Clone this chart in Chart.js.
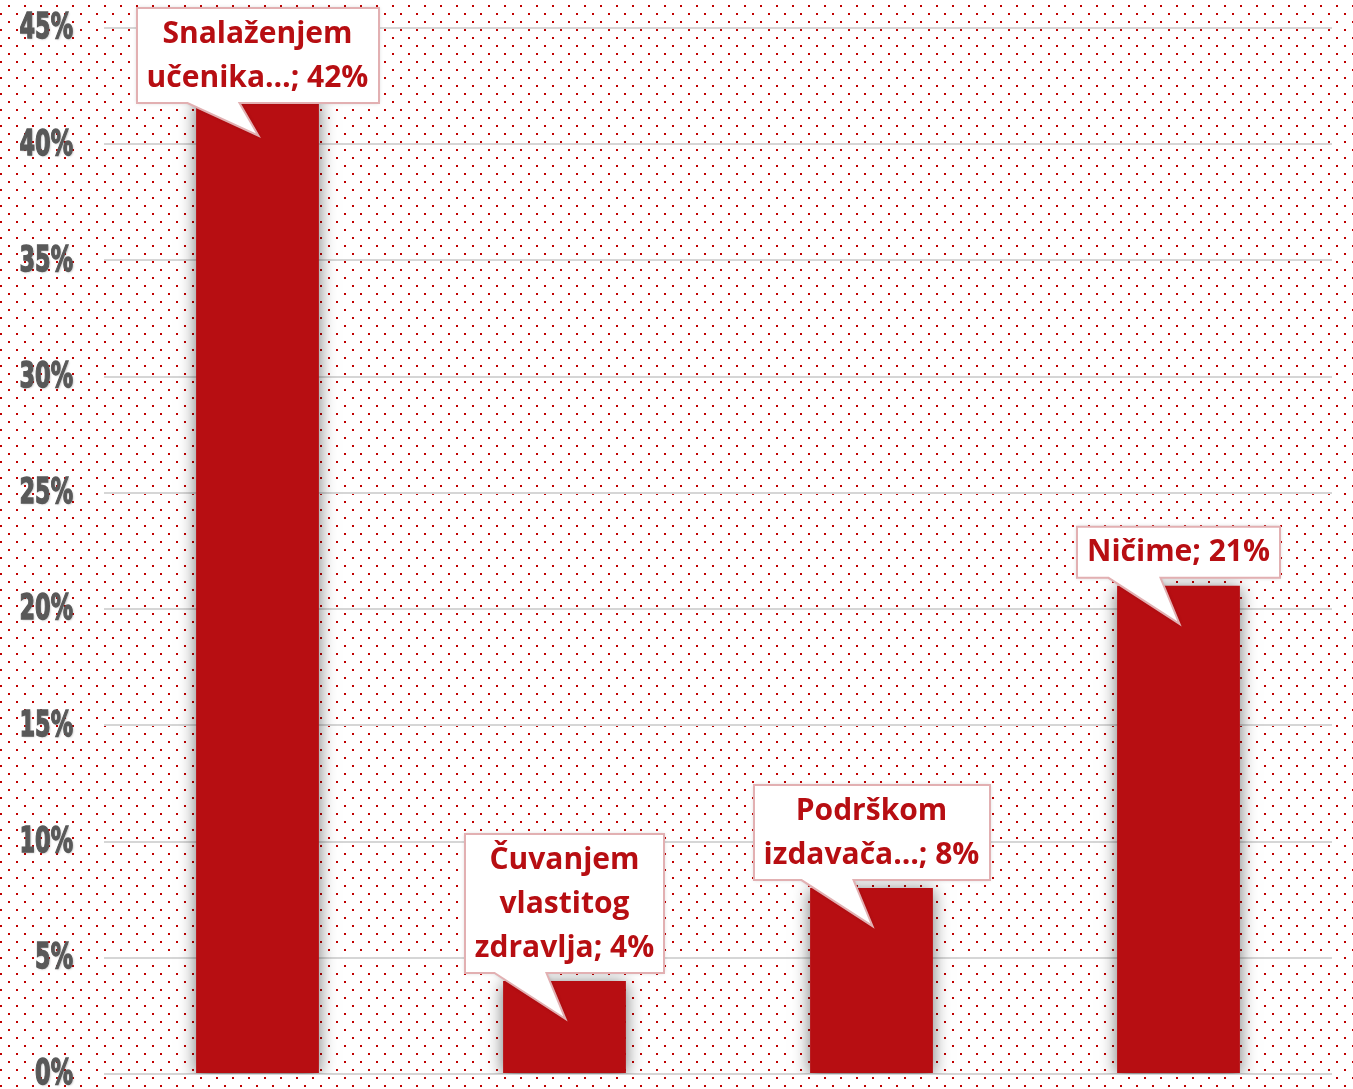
<!DOCTYPE html>
<html>
<head>
<meta charset="utf-8">
<script src="https://cdn.jsdelivr.net/npm/chart.js@4"></script>
<style>
    html, body { margin: 0; padding: 0; background: #ffffff; overflow: hidden; }
    canvas { display: block; }
</style>
</head>
<body>
<canvas id="grafik" width="1353" height="1089"></canvas>
<script>
// data
var categories = ['Snalaženjem učenika…', 'Čuvanjem vlastitog zdravlja', 'Podrškom izdavača…', 'Ničime'];
var categoryLines = [['Snalaženjem', 'učenika…'], ['Čuvanjem', 'vlastitog', 'zdravlja'], ['Podrškom', 'izdavača…'], ['Ničime']];
var values = [42, 4, 8, 21];
var yTicks = [0, 5, 10, 15, 20, 25, 30, 35, 40, 45];

var red = '#b70e12';

// dotted background, 16px tile
var tile = document.createElement('canvas');
tile.width = 16;
tile.height = 16;
var tctx = tile.getContext('2d');
tctx.fillStyle = '#c00000';
tctx.fillRect(8, 5, 2, 2);
tctx.fillRect(0, 13, 2, 2);

var dotsBg = {
    id: 'dotsBg',
    beforeDraw: function (chart) {
        var ctx = chart.ctx;
        ctx.save();
        ctx.fillStyle = '#ffffff';
        ctx.fillRect(0, 0, chart.width, chart.height);
        ctx.fillStyle = ctx.createPattern(tile, 'repeat');
        ctx.fillRect(0, 0, chart.width, chart.height);
        ctx.restore();
    }
};

// narrow heavy tick labels (squeezed by hand, no condensed font here)
var yLabels = {
    id: 'yLabels',
    afterDraw: function (chart) {
        var ctx = chart.ctx;
        var y = chart.scales.y;
        ctx.save();
        ctx.font = 'bold 36px "DejaVu Sans", sans-serif';
        ctx.textAlign = 'right';
        ctx.textBaseline = 'middle';
        yTicks.forEach(function (v) {
            var py = y.getPixelForValue(v);
            ctx.save();
            ctx.translate(73, py + 1);
            ctx.scale(0.62, 1);
            ctx.shadowColor = 'rgba(0,0,0,0.25)';
            ctx.shadowBlur = 2;
            ctx.shadowOffsetX = 1;
            ctx.shadowOffsetY = 1;
            ctx.fillStyle = '#595959';
            ctx.strokeStyle = '#595959';
            ctx.lineWidth = 1.5;
            ctx.fillText(v + '%', 0, 0);
            ctx.shadowColor = 'transparent';
            ctx.strokeText(v + '%', 0, 0);
            ctx.restore();
        });
        ctx.restore();
    }
};

var barShadow = {
    id: 'barShadow',
    beforeDatasetsDraw: function (chart) {
        var ctx = chart.ctx;
        ctx.save();
        ctx.shadowColor = 'rgba(0,0,0,0.55)';
        ctx.shadowBlur = 16;
        ctx.shadowOffsetX = 0;
        ctx.shadowOffsetY = 2;
    },
    afterDatasetsDraw: function (chart) {
        chart.ctx.restore();
    }
};

var callouts = {
    id: 'callouts',
    afterDatasetsDraw: function (chart) {
        var ctx = chart.ctx;
        var bars = chart.getDatasetMeta(0).data;
        var lineH = 44;
        ctx.save();
        ctx.font = 'bold 30px "Open Sans", sans-serif';
        bars.forEach(function (bar, i) {
            var lines = categoryLines[i].slice();
            lines[lines.length - 1] += '; ' + values[i] + '%';
            var w = 0;
            lines.forEach(function (l) { w = Math.max(w, ctx.measureText(l).width); });
            var bw = Math.round(w + 20);
            var bh = lines.length * lineH + 7;
            var cx = bar.x;
            var bottom = bar.y - 8;
            var top = bottom - bh;
            if (top < 8) { top = 8; bottom = top + bh; }
            var left = Math.round(cx - bw / 2);
            var right = left + bw;
            var tipY = bar.y + 38;

            ctx.beginPath();
            ctx.moveTo(left, top);
            ctx.lineTo(right, top);
            ctx.lineTo(right, bottom);
            ctx.lineTo(cx - 18, bottom);
            ctx.lineTo(cx + 1, tipY);
            ctx.lineTo(cx - 70, bottom);
            ctx.lineTo(left, bottom);
            ctx.closePath();
            ctx.shadowColor = 'rgba(0,0,0,0.18)';
            ctx.shadowBlur = 4;
            ctx.fillStyle = '#ffffff';
            ctx.fill();
            ctx.shadowColor = 'transparent';
            ctx.lineWidth = 2;
            ctx.strokeStyle = '#e2b0b2';
            ctx.stroke();

            ctx.fillStyle = red;
            ctx.textAlign = 'center';
            ctx.textBaseline = 'middle';
            lines.forEach(function (l, k) {
                ctx.fillText(l, cx, top + 26 + k * lineH);
            });
        });
        ctx.restore();
    }
};

var ctx = document.getElementById('grafik').getContext('2d');
var chart = new Chart(ctx, {
    type: 'bar',
    data: {
        labels: categories,
        datasets: [{
            data: values,
            backgroundColor: red,
            borderWidth: 0,
            barPercentage: 0.4,
            categoryPercentage: 1
        }]
    },
    options: {
        responsive: false,
        animation: false,
        layout: { padding: { top: 28, bottom: 15, left: 0, right: 21 } },
        plugins: {
            legend: { display: false },
            tooltip: { enabled: false }
        },
        scales: {
            x: {
                display: false
            },
            y: {
                min: 0,
                max: 45,
                afterFit: function (s) { s.width = 104; },
                afterBuildTicks: function (s) {
                    s.ticks = yTicks.map(function (v) { return { value: v }; });
                },
                border: { display: false },
                grid: { color: '#d6d6d6', lineWidth: 2, drawTicks: false },
                ticks: { display: false }
            }
        }
    },
    plugins: [dotsBg, barShadow, callouts, yLabels]
});
</script>
</body>
</html>
